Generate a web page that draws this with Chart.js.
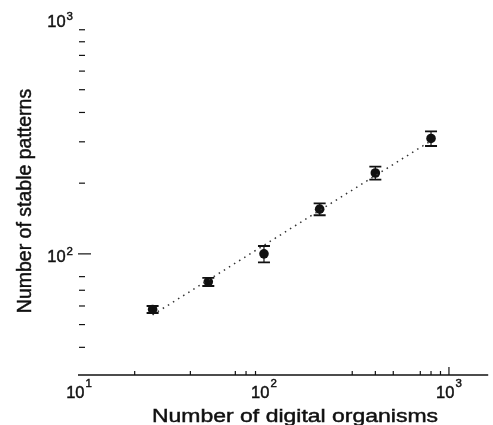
<!DOCTYPE html>
<html>
<head>
<meta charset="utf-8">
<title>Stable patterns vs digital organisms</title>
<script src="https://cdn.jsdelivr.net/npm/chart.js@4.4.1/dist/chart.umd.min.js"></script>
<style>
  body { margin: 0; background: #ffffff; }
  #chart-box { width: 493px; height: 425px; }
</style>
</head>
<body>
<div id="chart-box"><canvas id="myChart" width="493" height="425"></canvas></div>
<script>
// data
const organisms = [25, 50, 100, 200, 400, 800];
const patterns = [58, 76, 100, 155, 221, 310];
const patternErr = [2, 3, 8, 9, 14, 22];

// dotted power-law fit, two end points
const fitOrganisms = [25, 800];
const fitPatterns = [55, 303];

// axis ticks and labels
const xMajorTicks = [10, 100, 1000];
const xMajorLabels = ['1', '2', '3'];
const xMinorTicks = [20, 40, 70, 80, 90, 300, 400, 500, 700, 800, 900];
const yMajorTicks = [100, 1000];
const yMajorLabels = ['2', '3'];
const yMinorTicks = [40, 50, 60, 70, 80, 200, 300, 400, 500, 600, 700, 800, 900];

const xTitle = 'Number of digital organisms';
const yTitle = 'Number of stable patterns';

const FONT = '"Liberation Sans", Arial, sans-serif';
const INK = '#111111';

function toPoints(xs, ys) {
    return xs.map(function (x, i) { return { x: x, y: ys[i] }; });
}

// fill plus a hairline stroke, the scan's text is a bit heavy
function heavyText(ctx, text, x, y) {
    ctx.fillText(text, x, y);
    ctx.lineWidth = 0.45;
    ctx.strokeText(text, x, y);
}

//draws "10" with a small exponent, aligned 'center' or 'right' on x
function drawPower(ctx, exp, x, baseY, supY, align) {
    ctx.font = '16.5px ' + FONT;
    var wBase = ctx.measureText('10').width;
    ctx.font = '11.5px ' + FONT;
    var wSup = ctx.measureText(exp).width;
    var total = wBase + 1 + wSup;
    var left = align === 'right' ? x - total : x - total / 2;
    ctx.textAlign = 'left';
    ctx.textBaseline = 'alphabetic';
    ctx.font = '16.5px ' + FONT;
    heavyText(ctx, '10', left, baseY);
    ctx.font = '11.5px ' + FONT;
    heavyText(ctx, exp, left + wBase + 1, supY);
}

const axesPlugin = {
    id: 'paperAxes',
    afterDraw: function (chart) {
        const ctx = chart.ctx;
        const xs = chart.scales.x;
        const ys = chart.scales.y;
        const area = chart.chartArea;
        ctx.save();
        ctx.strokeStyle = INK;
        ctx.fillStyle = INK;

        // x axis line, ticks point inward
        ctx.lineWidth = 1.4;
        ctx.beginPath();
        ctx.moveTo(area.left - 1, area.bottom);
        ctx.lineTo(area.right, area.bottom);
        ctx.stroke();

        ctx.lineWidth = 1.2;
        xMinorTicks.forEach(function (v) {
            var px = xs.getPixelForValue(v);
            ctx.beginPath();
            ctx.moveTo(px, area.bottom);
            ctx.lineTo(px, area.bottom - 4);
            ctx.stroke();
        });
        // only the 10^3 tick shows up in the picture
        var px3 = xs.getPixelForValue(1000);
        ctx.beginPath();
        ctx.moveTo(px3, area.bottom);
        ctx.lineTo(px3, area.bottom - 8);
        ctx.stroke();

        xMajorTicks.forEach(function (v, i) {
            drawPower(ctx, xMajorLabels[i], xs.getPixelForValue(v), area.bottom + 23, area.bottom + 11.5, 'center');
        });

        // y axis: no line, only short ticks
        ctx.lineWidth = 1.2;
        yMinorTicks.forEach(function (v) {
            var py = ys.getPixelForValue(v);
            ctx.beginPath();
            ctx.moveTo(area.left, py);
            ctx.lineTo(area.left + 6, py);
            ctx.stroke();
        });
        var py2 = ys.getPixelForValue(100);
        ctx.beginPath();
        ctx.moveTo(area.left - 1, py2);
        ctx.lineTo(area.left + 12, py2);
        ctx.stroke();

        yMajorTicks.forEach(function (v, i) {
            var py = ys.getPixelForValue(v);
            drawPower(ctx, yMajorLabels[i], area.left - 6, py + 8, py + 1, 'right');
        });

        // x title, a little wide as in the scan
        ctx.font = '18px ' + FONT;
        ctx.textAlign = 'left';
        ctx.textBaseline = 'alphabetic';
        var tw = ctx.measureText(xTitle).width;
        ctx.save();
        ctx.translate(152, 422);
        ctx.scale(286 / tw, 1);
        heavyText(ctx, xTitle, 0, 0);
        ctx.restore();

        // y title, rotated
        ctx.save();
        ctx.translate(31, 201);
        ctx.rotate(-Math.PI / 2);
        ctx.font = '19.5px ' + FONT;
        ctx.textAlign = 'center';
        heavyText(ctx, yTitle, 0, 0);
        ctx.restore();

        ctx.restore();
    }
};

const errorBarPlugin = {
    id: 'errorBars',
    afterDatasetsDraw: function (chart) {
        const ctx = chart.ctx;
        const xs = chart.scales.x;
        const ys = chart.scales.y;
        ctx.save();
        ctx.strokeStyle = INK;
        organisms.forEach(function (o, i) {
            var px = xs.getPixelForValue(o);
            var top = ys.getPixelForValue(patterns[i] + patternErr[i]);
            var bot = ys.getPixelForValue(patterns[i] - patternErr[i]);
            ctx.lineWidth = 1.2;
            ctx.beginPath();
            ctx.moveTo(px, top);
            ctx.lineTo(px, bot);
            ctx.stroke();
            ctx.lineWidth = 1.8;
            ctx.beginPath();
            ctx.moveTo(px - 6, top);
            ctx.lineTo(px + 6, top);
            ctx.moveTo(px - 6, bot);
            ctx.lineTo(px + 6, bot);
            ctx.stroke();
        });
        ctx.restore();
    }
};

let myChart;

function initializeChart() {
    const ctx = document.getElementById('myChart').getContext('2d');
    myChart = new Chart(ctx, {
        type: 'scatter',
        data: {
            datasets: [
                {
                    label: 'fit',
                    type: 'line',
                    data: toPoints(fitOrganisms, fitPatterns),
                    borderColor: '#333333',
                    borderWidth: 1.5,
                    borderDash: [1.5, 4.5],
                    pointRadius: 0,
                    fill: false,
                    tension: 0
                },
                {
                    label: 'stable patterns',
                    data: toPoints(organisms, patterns),
                    backgroundColor: INK,
                    borderColor: INK,
                    pointRadius: 4.8,
                    pointBorderWidth: 0
                }
            ]
        },
        options: {
            responsive: false,
            animation: false,
            layout: {
                padding: { left: 79, right: 0, top: 19, bottom: 50 }
            },
            plugins: {
                legend: { display: false },
                tooltip: { enabled: false }
            },
            scales: {
                x: {
                    type: 'logarithmic',
                    display: false,
                    min: 10,
                    max: 1630
                },
                y: {
                    type: 'logarithmic',
                    display: false,
                    min: 30.5,
                    max: 1000
                }
            }
        },
        plugins: [axesPlugin, errorBarPlugin]
    });
}

initializeChart();
</script>
</body>
</html>
